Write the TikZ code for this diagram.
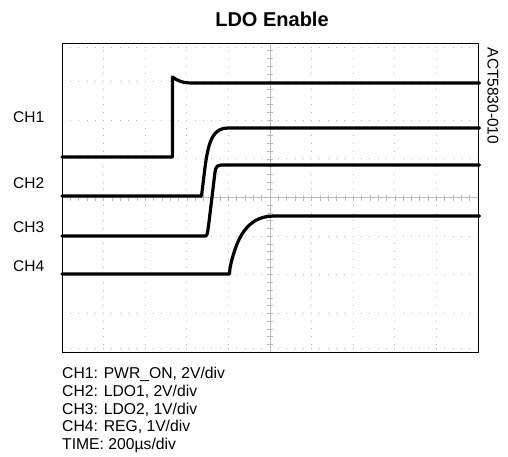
\documentclass[tikz,border=0pt]{standalone}
\usepackage{fontspec}
\setmainfont{Liberation Sans}
\begin{document}
\begin{tikzpicture}[x=1pt,y=-1pt,
  trace/.style={line width=3.2pt,line join=round,line cap=round},
  gridh/.style={gray!60,line width=0.9pt,dash pattern=on 0.9pt off 7.42pt,dash phase=0.45pt},
  gridv/.style={gray!60,line width=0.9pt,dash pattern=on 0.9pt off 6.825pt,dash phase=0.45pt},
  lab/.style={font=\fontsize{15.5}{17}\selectfont,inner sep=0pt}]
\useasboundingbox (0,0) rectangle (508,457);
% grid
\foreach \k in {1,...,9}{
  \draw[gridv] (62+41.6*\k,43) -- (62+41.6*\k,352);
}
\foreach \k in {1,...,7}{
  \draw[gridh] (62,43+38.625*\k) -- (478,43+38.625*\k);
}
\draw[gridh] (62,47) -- (478,47);
\draw[gridh] (62,348) -- (478,348);
% center axes
\draw[gray!55,line width=0.6pt] (62,197.5) -- (478,197.5);
\draw[gray!55,line width=0.6pt] (270,43) -- (270,352);
\foreach \k in {1,...,49}{
  \draw[gray!55,line width=0.6pt] (62+8.32*\k,194.5) -- (62+8.32*\k,200.5);
}
\foreach \k in {1,...,39}{
  \draw[gray!55,line width=0.6pt] (267,43+7.725*\k) -- (273,43+7.725*\k);
}
% frame
\node[draw,line width=1.4pt,minimum width=416pt,minimum height=309pt,inner sep=0pt,anchor=north west] (scope) at (62,43) {};
% traces
\draw[trace] (scope.west |- 0,157) -- (172.5,157) -- (172.5,77) .. controls (177,80) and (181,83) .. (192,83) -- (scope.east |- 0,83);
\draw[trace] (scope.west |- 0,196) -- (201.5,196) -- (203,184) .. controls (207,150) and (209,128) .. (228,128) -- (scope.east |- 0,128);
\draw[trace] (scope.west |- 0,236) -- (206,236) .. controls (208,234) and (208,228) .. (209,222) -- (215,172) .. controls (216,166) and (217,165) .. (224,165) -- (scope.east |- 0,165);
\draw[trace] (scope.west |- 0,274) -- (229.5,274) -- (230,268) .. controls (236,240) and (246,216) .. (274,216) -- (scope.east |- 0,216);
% labels
\node[font=\fontsize{20}{24}\selectfont\bfseries,anchor=base,inner sep=0pt] (title) at (272,27) {LDO Enable};
\node[lab,anchor=west] (l1) at (13,117) {CH1};
\node[lab,anchor=west] (l2) at (13,183) {CH2};
\node[lab,anchor=west] (l3) at (13,227) {CH3};
\node[lab,anchor=west] (l4) at (13,266) {CH4};
\node[lab,rotate=-90,anchor=center] (code) at (493,96) {ACT5830-010};
\node[lab,anchor=north west,align=left,font=\fontsize{15.7}{17.8}\selectfont] (legend) at (62,367) {CH1: PWR\_ON, 2V/div\\CH2: LDO1, 2V/div\\CH3: LDO2, 1V/div\\CH4: REG, 1V/div\\TIME: 200µs/div};
\end{tikzpicture}
\end{document}
